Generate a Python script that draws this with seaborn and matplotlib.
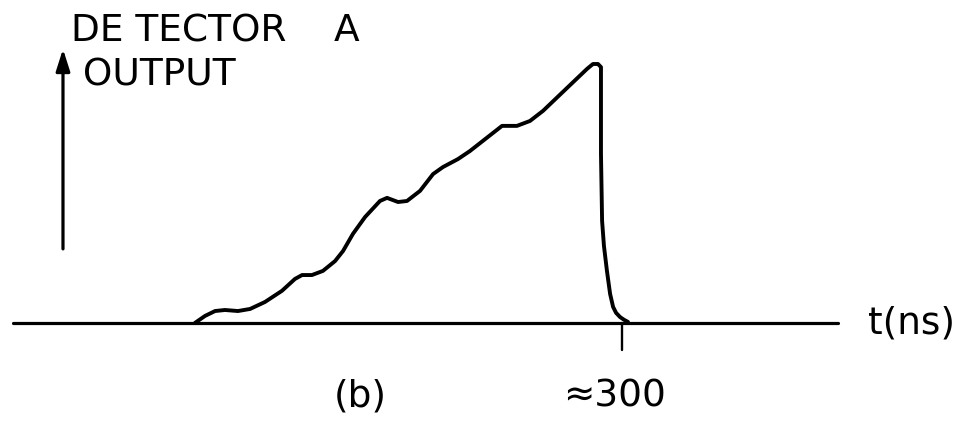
import matplotlib
matplotlib.use("Agg")
import matplotlib.pyplot as plt
import seaborn as sns
import pandas as pd

# Detector A output pulse: time in ns, output in arbitrary units (peak = 1)
time_ns = [70.8, 76.2, 81.6, 86.9, 93.9, 100.4, 108.4, 117.5, 124.5, 128.3,
           133.6, 139.5, 146.0, 150.3, 155.6, 162.1, 170.1, 173.9, 179.8, 184.6,
           191.6, 198.6, 203.9, 212.0, 218.4, 235.6, 243.6, 250.6, 257.6, 269.4,
           281.2, 284.4, 287.1, 288.7, 288.7, 288.7, 289.3, 290.3, 291.9, 293.6,
           295.2, 296.8, 298.9, 301.1, 303.2]
output = [0.000, 0.027, 0.046, 0.050, 0.046, 0.054, 0.081, 0.124, 0.170, 0.185,
          0.185, 0.201, 0.239, 0.278, 0.344, 0.409, 0.471, 0.483, 0.467, 0.471,
          0.510, 0.575, 0.602, 0.633, 0.664, 0.761, 0.761, 0.780, 0.819, 0.900,
          0.981, 1.000, 1.000, 0.988, 0.942, 0.653, 0.394, 0.297, 0.201, 0.112,
          0.062, 0.039, 0.023, 0.012, 0.004]

x_label = "t(ns)"
y_label = ["DE TECTOR    A", " OUTPUT"]
tick_value = 300
tick_label = "≈300"
panel_label = "(b)"

sns.set_theme(style="white")
plt.rcParams["font.family"] = ["DejaVu Sans"]

fig = plt.figure(figsize=(9.61, 4.27), dpi=100)
ax = fig.add_axes([0, 0, 1, 1])
ax.set_xlim(-33.8, 481.9)
ax.set_ylim(-0.398, 1.251)
ax.axis("off")

df = pd.DataFrame({"t": time_ns, "out": output})
sns.lineplot(data=df, x="t", y="out", sort=False, estimator=None,
             color="black", linewidth=2.8, ax=ax,
             solid_joinstyle="round", solid_capstyle="round")

# time axis with a single tick
ax.plot([-26.8, 415.9], [0, 0], color="black", linewidth=2.3,
        solid_capstyle="round")
ax.plot([tick_value, tick_value], [0, -0.104], color="black", linewidth=1.7)

# vertical output arrow
ax.annotate("", xy=(0, 1.058), xytext=(0, 0.286),
            arrowprops=dict(arrowstyle="-|>,head_length=1.1,head_width=0.35",
                            color="black", lw=2.3, shrinkA=0, shrinkB=0))

text_kw = dict(color="black", fontsize=27)
ax.text(4.5, 1.089, y_label[0], ha="left", va="baseline", **text_kw)
ax.text(4.5, 0.919, y_label[1], ha="left", va="baseline", **text_kw)
ax.text(432, 0.0, x_label, ha="left", va="center", **text_kw)
ax.text(tick_value - 4, -0.32, tick_label, ha="center", va="baseline", **text_kw)
ax.text(159.4, -0.32, panel_label, ha="center", va="baseline", **text_kw)

fig.savefig("out.png", dpi=100, facecolor="white")
